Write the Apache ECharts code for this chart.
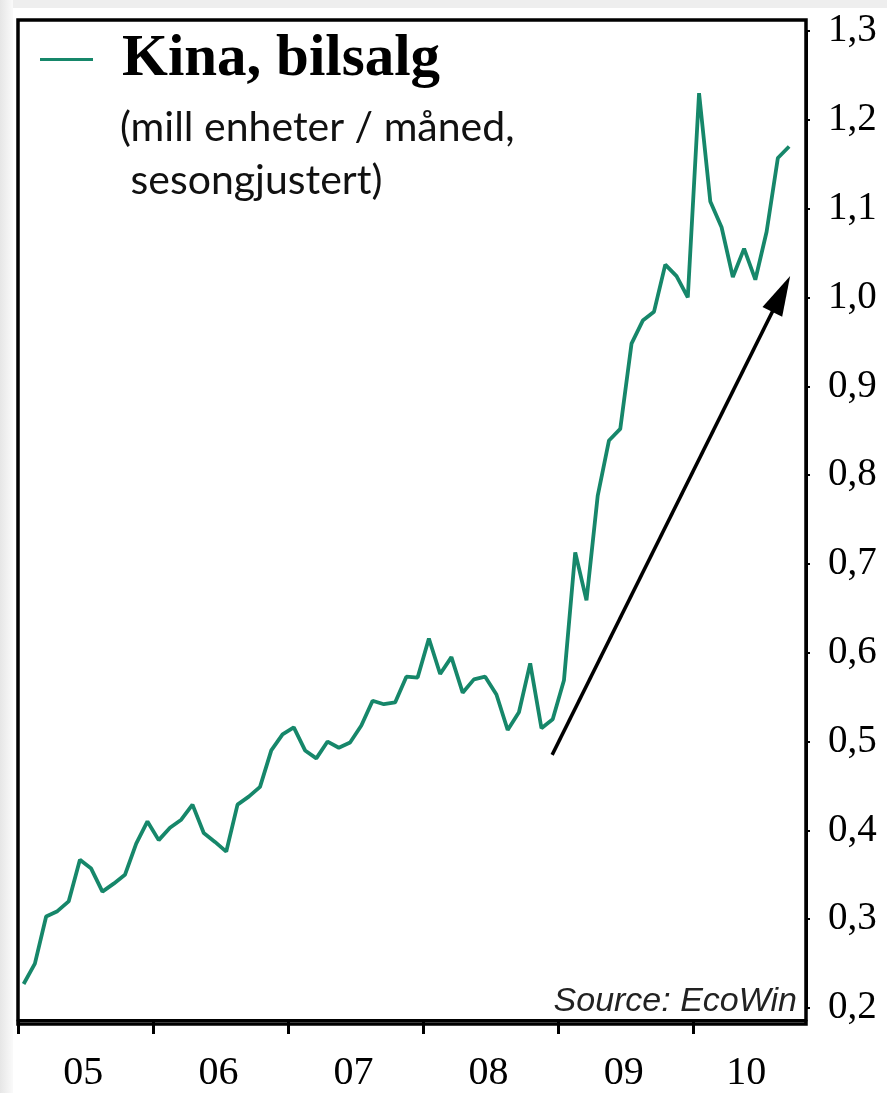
<!DOCTYPE html>
<html>
<head>
<meta charset="utf-8">
<script src="https://cdn.jsdelivr.net/npm/echarts@6/dist/echarts.min.js"></script>
<style>
html,body{margin:0;padding:0;background:#fff;}
#chart{width:887px;height:1093px;}
</style>
</head>
<body>
<div id="chart"></div>
<script>
// Monthly values, Jan 2005 .. Sep 2010 (mill units / month, seasonally adjusted)
const months = [
 '2005-01','2005-02','2005-03','2005-04','2005-05','2005-06','2005-07','2005-08','2005-09','2005-10','2005-11','2005-12',
 '2006-01','2006-02','2006-03','2006-04','2006-05','2006-06','2006-07','2006-08','2006-09','2006-10','2006-11','2006-12',
 '2007-01','2007-02','2007-03','2007-04','2007-05','2007-06','2007-07','2007-08','2007-09','2007-10','2007-11','2007-12',
 '2008-01','2008-02','2008-03','2008-04','2008-05','2008-06','2008-07','2008-08','2008-09','2008-10','2008-11','2008-12',
 '2009-01','2009-02','2009-03','2009-04','2009-05','2009-06','2009-07','2009-08','2009-09','2009-10','2009-11','2009-12',
 '2010-01','2010-02','2010-03','2010-04','2010-05','2010-06','2010-07','2010-08','2010-09'
];
const carSales = [
 0.227,0.250,0.303,0.309,0.320,0.367,0.357,0.331,0.340,0.350,0.385,0.410,
 0.389,0.403,0.412,0.429,0.397,0.387,0.376,0.429,0.438,0.449,0.490,0.508,
 0.516,0.490,0.481,0.500,0.493,0.499,0.518,0.546,0.542,0.544,0.573,0.572,
 0.616,0.576,0.595,0.555,0.570,0.573,0.553,0.513,0.533,0.588,0.515,0.525,
 0.569,0.713,0.659,0.777,0.839,0.852,0.948,0.974,0.984,1.037,1.024,1.000,
 1.230,1.108,1.079,1.023,1.055,1.020,1.074,1.157,1.170
];
const yearTicks = [0, 12, 24, 36, 48, 60];          // months since Jan 2005
const yearLabelPos = [5.8, 17.8, 29.8, 41.8, 53.8, 64.7];
const yearLabels = ['05', '06', '07', '08', '09', '10'];
const arrowStart = [47.45, 0.485];
const arrowEnd = [67.8, 1.004];

const seriesData = carSales.map((v, i) => [i + 0.5, v]);

const chart = echarts.init(document.getElementById('chart'), null, {renderer: 'canvas'});
chart.setOption({
  animation: false,
  backgroundColor: '#ffffff',
  grid: {left: 18, right: 81, top: 31, bottom: 81},
  title: {
    text: '(mill enheter / måned,\n sesongjustert)',
    left: 120, top: 101, padding: 0,
    textStyle: {fontFamily: 'Lato', fontWeight: 'normal', fontSize: 41, lineHeight: 53, color: '#111'}
  },
  legend: {
    left: 40, top: 30, padding: 0,
    itemWidth: 53, itemHeight: 3, icon: 'rect',
    data: ['Kina, bilsalg'],
    textStyle: {fontFamily: 'Liberation Serif', fontWeight: 'bold', fontSize: 59, color: '#000', padding: [0, 0, 0, 24]}
  },
  xAxis: {
    type: 'value', min: 0, max: 70, offset: 12,
    axisLine: {show: true, onZero: false, lineStyle: {color: '#000', width: 3}},
    axisTick: {show: true, length: 14, lineStyle: {color: '#000', width: 3}, customValues: yearTicks},
    axisLabel: {
      customValues: yearLabelPos,
      formatter: v => yearLabels[yearLabelPos.indexOf(v)],
      fontFamily: 'Liberation Serif', fontSize: 40, color: '#000', margin: 33
    },
    splitLine: {show: false}
  },
  yAxis: {
    type: 'value', position: 'right', min: 0.2, max: 1.3, interval: 0.1,
    axisLine: {show: true, onZero: false, lineStyle: {color: '#000', width: 3}},
    axisTick: {show: true, inside: false, length: 4, lineStyle: {color: '#000', width: 2}},
    axisLabel: {
      formatter: v => v.toFixed(1).replace('.', ','),
      fontFamily: 'Liberation Serif', fontSize: 39, color: '#000', margin: 22
    },
    splitLine: {show: false}
  },
  series: [{
    name: 'Kina, bilsalg',
    type: 'line',
    data: seriesData,
    showSymbol: false,
    color: '#16876a',
    lineStyle: {color: '#16876a', width: 3.8},
    markLine: {
      silent: true,
      symbol: ['none', 'triangle'],
      symbolSize: [22, 40],
      label: {show: false},
      lineStyle: {color: '#000', width: 3.5, type: 'solid'},
      itemStyle: {color: '#000'},
      data: [[{coord: arrowStart}, {coord: arrowEnd}]]
    }
  }],
  graphic: [
    {type: 'rect', shape: {x: 0, y: 0, width: 887, height: 8}, style: {fill: '#eeeeee'}, z: -10},
    {type: 'rect', shape: {x: 0, y: 0, width: 13, height: 1093},
     style: {fill: new echarts.graphic.LinearGradient(0, 0, 1, 0, [{offset: 0, color: '#e6e6e6'}, {offset: 1, color: '#fafafa'}])}, z: -10},
    {type: 'rect', shape: {x: 18, y: 20, width: 788, height: 1004},
     style: {fill: 'none', stroke: '#000', lineWidth: 3.5}, z: 10},
    {type: 'text', right: 90, top: 985,
     style: {text: 'Source: EcoWin', font: 'italic 34px "Liberation Sans"', fill: '#222'}, z: 11}
  ]
});
</script>
</body>
</html>
